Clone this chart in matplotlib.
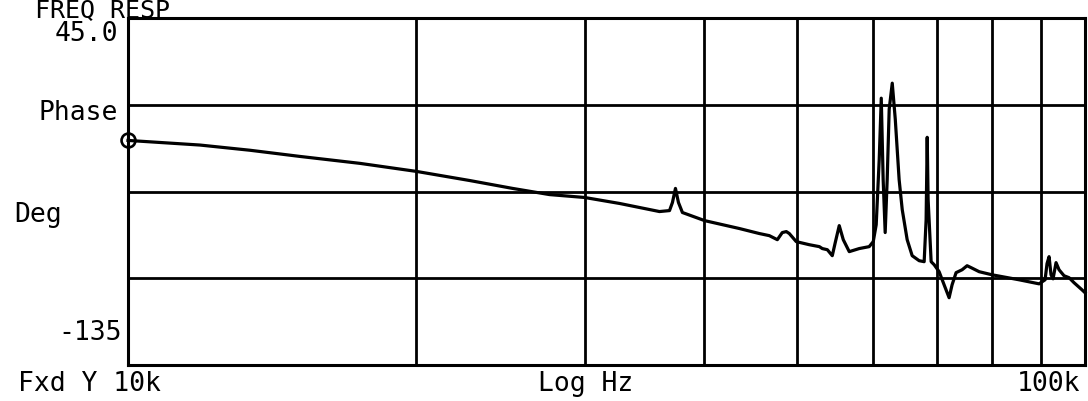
import matplotlib
matplotlib.use("Agg")
import matplotlib.pyplot as plt
from matplotlib.ticker import NullLocator

# ---- data ----
freq_khz = [10.00, 11.89, 13.41, 15.12, 17.47, 20.03, 22.75, 25.23, 27.57, 30.00,
            32.63, 35.92, 36.80, 37.06, 37.33, 37.60, 37.96, 40.04, 43.53, 45.67,
            46.79, 47.70, 48.27, 48.74, 49.09, 49.92, 51.51, 52.77, 53.15, 53.80,
            54.44, 54.83, 55.36, 55.90, 56.71, 58.09, 59.50, 60.08, 60.51, 60.95,
            61.25, 61.53, 61.83, 62.13, 62.43, 62.89, 63.35, 63.94, 64.42, 65.19,
            65.98, 67.10, 67.91, 68.23, 68.41, 68.56, 69.06, 69.57, 70.40, 71.25,
            72.11, 72.63, 73.33, 74.40, 75.30, 76.03, 77.52, 79.95, 85.34, 89.54,
            90.84, 91.27, 91.72, 92.15, 92.60, 93.27, 93.95, 95.08, 96.23, 97.39,
            99.28, 100.0]
phase_deg = [-18.5, -20.9, -23.6, -26.8, -30.4, -34.6, -39.3, -43.4, -46.6, -48.1,
             -51.2, -55.4, -54.9, -50.7, -43.4, -50.7, -55.9, -60.1, -64.2, -66.8,
             -67.9, -70.0, -66.3, -65.8, -66.8, -71.0, -72.6, -73.6, -74.6, -75.2,
             -78.3, -71.5, -62.7, -70.0, -76.2, -74.6, -73.6, -71.0, -62.2, -28.3,
             3.4, -38.8, -66.3, -38.8, -2.3, 11.2, -7.5, -38.8, -54.4, -70.0,
             -78.3, -80.9, -81.4, -59.6, -16.9, -49.2, -81.4, -83.0, -86.6, -93.4,
             -100.1, -93.4, -87.1, -85.6, -83.5, -84.5, -86.6, -88.2, -90.8, -92.9,
             -90.8, -82.4, -78.8, -88.2, -90.3, -81.9, -85.6, -88.7, -89.7, -92.3,
             -96.0, -97.5]
x_grid_khz = [20, 30, 40, 50, 60, 70, 80, 90]
y_grid_deg = [0, -45, -90]
y_top, y_bottom = 45.0, -135.0
title_text = "FREQ RESP"
y_top_label = "45.0"
y_bottom_label = "-135"
y_name_1 = "Phase"
y_name_2 = "Deg"
x_left_label = "Fxd Y 10k"
x_mid_label = "Log Hz"
x_right_label = "100k"

W, H = 1088, 401
fig = plt.figure(figsize=(W / 100, H / 100), dpi=100)
fig.patch.set_facecolor("white")

left, right, top, bottom = 128, 1085, 18, 365
ax = fig.add_axes([left / W, 1 - bottom / H, (right - left) / W, (bottom - top) / H])

freq_hz = [f * 1000 for f in freq_khz]
ax.plot(freq_hz, phase_deg, color="black", lw=2.3, solid_joinstyle="round", clip_on=False, zorder=3)
ax.plot([freq_hz[0]], [phase_deg[0]], marker="o", ms=10, mfc="none", mec="black", mew=1.9,
        clip_on=False, zorder=4)

ax.set_xscale("log")
ax.set_xlim(10000, 100000)
ax.set_ylim(y_bottom, y_top)
for g in x_grid_khz:
    ax.axvline(g * 1000, color="black", lw=2.0, zorder=1)
for g in y_grid_deg:
    ax.axhline(g, color="black", lw=2.0, zorder=1)
for s in ax.spines.values():
    s.set_linewidth(2.2)
ax.xaxis.set_major_locator(NullLocator())
ax.xaxis.set_minor_locator(NullLocator())
ax.yaxis.set_major_locator(NullLocator())
ax.tick_params(length=0)

fs = 19
fam = "DejaVu Sans Mono"

def ftext(x, y, s, ha="left", va="center", size=fs):
    fig.text(x / W, 1 - y / H, s, ha=ha, va=va, fontsize=size, family=fam, color="black")

ftext(35, 17, title_text, va="baseline", size=18)
ftext(118, 34, y_top_label, ha="right")
ftext(118, 113, y_name_1, ha="right")
ftext(14, 215, y_name_2)
ftext(122, 333, y_bottom_label, ha="right")
ftext(18, 391, x_left_label, va="baseline")
ftext(538, 391, x_mid_label, va="baseline")
ftext(1080, 391, x_right_label, ha="right", va="baseline")

fig.savefig("out.png", dpi=100, facecolor="white")
